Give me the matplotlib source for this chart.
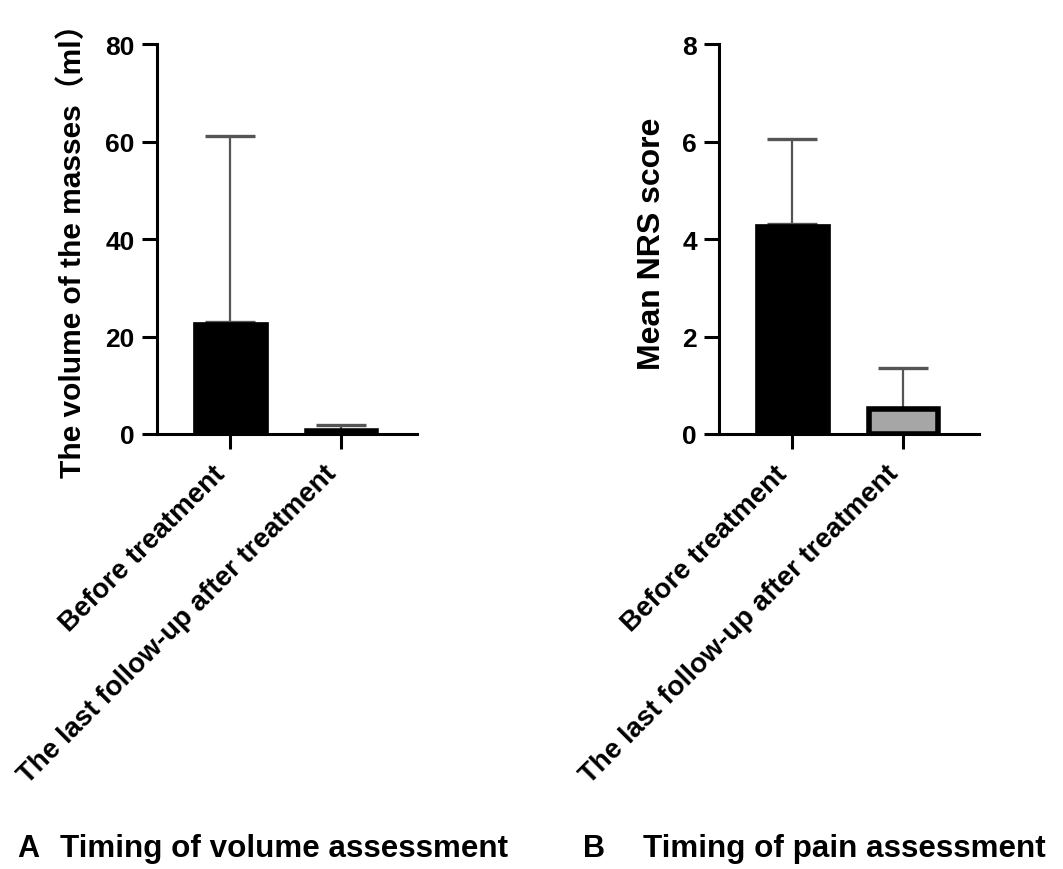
import matplotlib
matplotlib.use("Agg")
import matplotlib.pyplot as plt

plt.rcParams['font.family'] = ['Liberation Sans', 'Noto Sans CJK SC', 'DejaVu Sans']
plt.rcParams['font.weight'] = 'bold'

# data
groups = ["Before treatment", "The last follow-up after treatment"]
volume_mean = [23.0, 0.7]
volume_sd = [38.2, 1.15]
nrs_mean = [4.32, 0.52]
nrs_sd = [1.74, 0.83]

vol_ticks = [0, 20, 40, 60, 80]
nrs_ticks = [0, 2, 4, 6, 8]

fig = plt.figure(figsize=(10.63, 8.70), dpi=100)
ax_a = fig.add_axes([0.1477, 0.5, 0.2446, 0.448])
ax_b = fig.add_axes([0.6764, 0.5, 0.2446, 0.448])


def draw_panel(ax, means, sds, ticks, ylabel, ysize, ylab_x, colors):
    x = list(range(len(means)))
    ax.bar(x, means, width=[0.67, 0.62], color=colors, edgecolor='black',
           linewidth=[0.5, 4], zorder=2)
    ax.errorbar(x, means, yerr=[[0] * len(sds), sds], fmt='none',
                ecolor='#555555', elinewidth=1.6, capsize=18, capthick=2.4, zorder=1)
    ax.set_xlim(-0.66, 1.68)
    ax.set_ylim(ticks[0], ticks[-1])
    ax.set_yticks(ticks)
    ax.set_xticks(x)
    ax.set_xticklabels(groups, rotation=45, ha='right', fontsize=20,
                       fontweight='bold')
    ax.tick_params(axis='y', labelsize=19, length=11, width=2.2, pad=5)
    ax.tick_params(axis='x', length=11, width=2.2, pad=8)
    for lab in ax.get_yticklabels():
        lab.set_fontweight('bold')
    ax.spines['top'].set_visible(False)
    ax.spines['right'].set_visible(False)
    ax.spines['left'].set_linewidth(2.2)
    ax.spines['bottom'].set_linewidth(2.2)
    ax.set_ylabel(ylabel, fontsize=ysize, fontweight='bold')
    ax.yaxis.set_label_coords(ylab_x, 0.49)
    ax.set_facecolor('none')


draw_panel(ax_a, volume_mean, volume_sd, vol_ticks,
           "The volume of the masses（ml）", 21.5, -0.27, ['black', 'black'])
draw_panel(ax_b, nrs_mean, nrs_sd, nrs_ticks, "Mean NRS score", 23, -0.20,
           ['black', '#a6a6a6'])

fig.text(0.016, 0.015, "A", fontsize=22, fontweight='bold', va='baseline')
fig.text(0.056, 0.015, "Timing of volume assessment", fontsize=22.6,
         fontweight='bold', va='baseline')
fig.text(0.548, 0.015, "B", fontsize=22, fontweight='bold', va='baseline')
fig.text(0.605, 0.015, "Timing of pain assessment", fontsize=22.6,
         fontweight='bold', va='baseline')

fig.savefig("out.png", dpi=100)
